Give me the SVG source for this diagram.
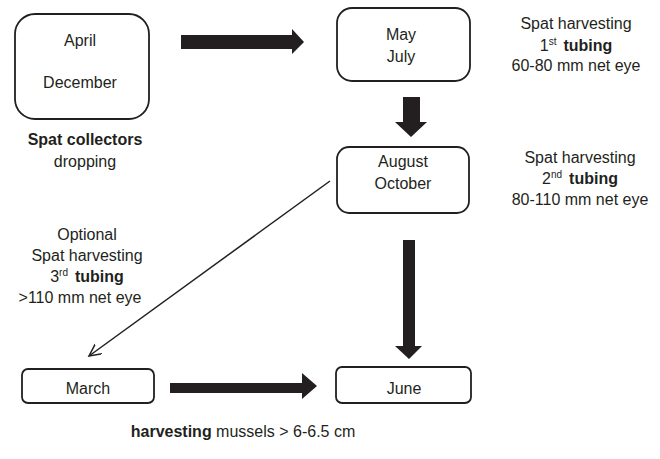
<svg xmlns="http://www.w3.org/2000/svg" width="660" height="459" viewBox="0 0 660 459">
<style>
text{font-family:"Liberation Sans",Arial,sans-serif;font-size:16px;fill:#231f20;text-anchor:middle}
.b{font-weight:bold}
.box{fill:#fff;stroke:#231f20;stroke-width:1.8}
.big{fill:#231f20;stroke:none}
.sup{font-size:10px}
</style>
<defs>
<marker id="open" markerWidth="14" markerHeight="14" refX="12" refY="6" orient="auto" markerUnits="userSpaceOnUse">
<path d="M0,0 L12,6 L0,12" fill="none" stroke="#231f20" stroke-width="1.5"/>
</marker>
</defs>
<rect width="660" height="459" fill="#fff"/>
<g id="connectors">
<path class="big" d="M181,35 H292 V29 L304,42 L292,54 V49 H181 Z"/>
<path class="big" d="M403,97 H420 V122 H427 L411,137 L395,122 H403 Z"/>
<path class="big" d="M403,240 H415 V346 H422 L409,359 L395,346 H403 Z"/>
<path class="big" d="M170,383 H302 V373 L317,386 L302,399 V393 H170 Z"/>
<line x1="330" y1="181" x2="89" y2="356" stroke="#231f20" stroke-width="1.5" marker-end="url(#open)"/>
</g>
<g id="n-april">
<rect class="box" x="15" y="14" width="134" height="105" rx="20"/>
<text x="80" y="46">April</text>
<text x="80" y="88">December</text>
</g>
<g id="n-spat-collectors">
<text x="85" y="145" class="b">Spat collectors</text>
<text x="85" y="167">dropping</text>
</g>
<g id="n-may">
<rect class="box" x="337" y="8" width="133" height="73" rx="15"/>
<text x="401" y="40">May</text>
<text x="401" y="62">July</text>
</g>
<g id="n-first">
<text x="576" y="29">Spat harvesting</text>
<text x="576" y="51">1<tspan class="sup" dy="-6">st</tspan><tspan class="b" dy="6" dx="7">tubing</tspan></text>
<text x="576" y="71">60-80 mm net eye</text>
</g>
<g id="n-august">
<rect class="box" x="337" y="147" width="132" height="66" rx="12"/>
<text x="403" y="167">August</text>
<text x="403" y="189">October</text>
</g>
<g id="n-second">
<text x="580" y="163">Spat harvesting</text>
<text x="580" y="184">2<tspan class="sup" dy="-6">nd</tspan><tspan class="b" dy="6" dx="7">tubing</tspan></text>
<text x="580" y="205">80-110 mm net eye</text>
</g>
<g id="n-optional">
<text x="87" y="240">Optional</text>
<text x="87" y="261">Spat harvesting</text>
<text x="87" y="282">3<tspan class="sup" dy="-6">rd</tspan><tspan class="b" dy="6" dx="7">tubing</tspan></text>
<text x="80" y="303">&gt;110 mm net eye</text>
</g>
<g id="n-march">
<rect class="box" x="22" y="369" width="132" height="34" rx="6"/>
<text x="88" y="394">March</text>
</g>
<g id="n-june">
<rect class="box" x="336" y="367" width="135" height="36" rx="6"/>
<text x="404" y="394">June</text>
</g>
<g id="n-harvest">
<text x="243" y="437"><tspan class="b">harvesting</tspan> mussels &gt; 6-6.5 cm</text>
</g>
</svg>
